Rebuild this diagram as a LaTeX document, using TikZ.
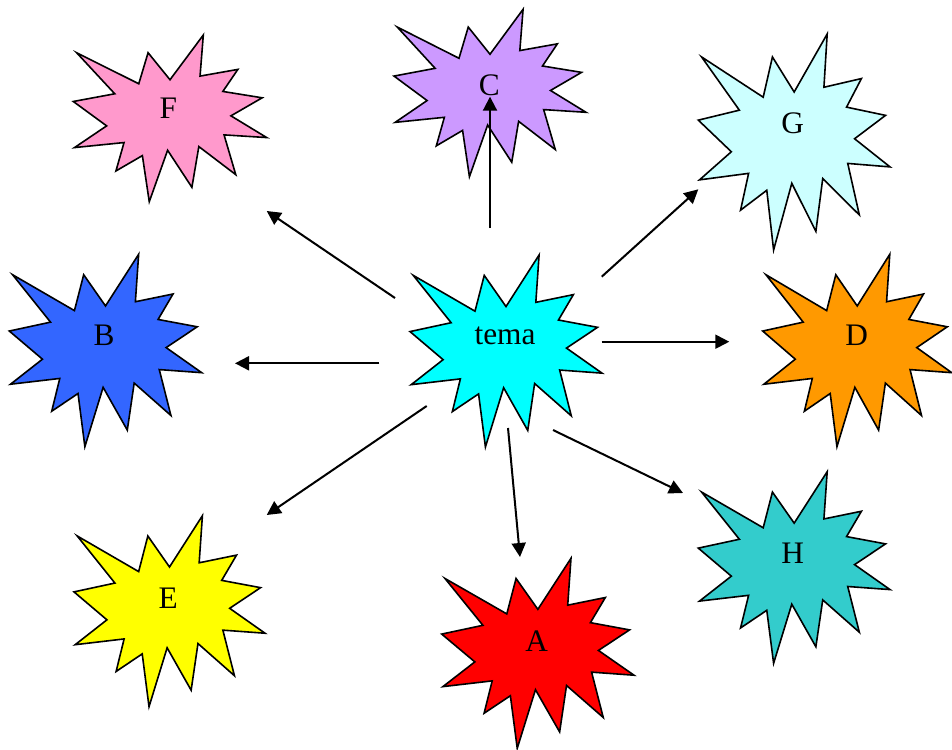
\documentclass[tikz,border=0pt]{standalone}
\usepackage{fontspec}
\setmainfont{Liberation Serif}
\usetikzlibrary{arrows.meta}
\definecolor{cTema}{HTML}{00FFFF}
\definecolor{cF}{HTML}{FF99CC}
\definecolor{cC}{HTML}{CC99FF}
\definecolor{cG}{HTML}{CCFFFF}
\definecolor{cB}{HTML}{3366FF}
\definecolor{cD}{HTML}{FF9900}
\definecolor{cE}{HTML}{FFFF00}
\definecolor{cA}{HTML}{FF0000}
\definecolor{cH}{HTML}{33CCCC}
\tikzset{
  sealline/.style={draw=black, line width=1.2pt, line join=miter},
  lbl/.style={inner sep=0pt, font=\fontsize{23.5pt}{26pt}\selectfont},
  arr/.style={line width=1.5pt, -{Triangle[length=10.5pt,width=10.5pt]}}
}
\newcommand{\seal}[5]{%
  \begin{scope}[shift={(#1,#2)}, xscale=#3/216, yscale=#4/216]
    \filldraw[sealline, fill=#5] (108,58) -- (145.22,0) -- (141.55,53.25) -- (183.8,44.57) -- (167.02,73.15) -- (210.97,81.37) -- (176.07,104.75) -- (216,132.9) -- (168.37,129.42) -- (181.45,180.95) -- (140.2,144.57) -- (132.47,197.37) -- (105.32,149.35) -- (84.85,216) -- (77.15,156.27) -- (47.62,176.17) -- (56.67,139.37) -- (1.35,145.87) -- (37.22,117.75) -- (0,86.15) -- (46.27,76.17) -- (3.7,22.95) -- (73.12,63.2) -- (83.52,22.95) -- cycle;
  \end{scope}}
\begin{document}
\begin{tikzpicture}[x=0.75pt, y=-0.75pt]
\useasboundingbox (0,0) rectangle (952,749);
% stars
\seal{410}{255}{192}{192}{cTema}
\seal{73.3}{35}{193.4}{166.7}{cF}
\seal{394}{9.3}{192}{167.4}{cC}
\seal{698.3}{34}{191.7}{216}{cG}
\seal{9.3}{254.3}{192.4}{192.4}{cB}
\seal{762.7}{254.3}{189}{192.4}{cD}
\seal{74}{515.7}{191}{191}{cE}
\seal{441.7}{558.3}{192.3}{190}{cA}
\seal{698.3}{471.7}{191.7}{191.6}{cH}
% labels
\node[lbl] (tema) at (505,336) {tema};
\node[lbl] (F) at (168.3,108) {F};
\node[lbl] (C) at (489.3,85) {C};
\node[lbl] (G) at (792.7,123) {G};
\node[lbl] (B) at (104,335) {B};
\node[lbl] (D) at (856.7,335) {D};
\node[lbl] (E) at (168.3,598) {E};
\node[lbl] (A) at (536.7,641) {A};
\node[lbl] (H) at (792.7,553) {H};
% arrow ends
\coordinate (sF) at (395,298);   \coordinate (eF) at (266.7,211);
\coordinate (sB) at (379.3,363.3); \coordinate (eB) at (235,363.3);
\coordinate (sE) at (426.7,406); \coordinate (eE) at (266.7,515);
\coordinate (sC) at (490,228);   \coordinate (eC) at (490,96.7);
\coordinate (sG) at (601.7,276.7); \coordinate (eG) at (698.3,189.3);
\coordinate (sD) at (601.7,341.7); \coordinate (eD) at (729.3,341.7);
\coordinate (sA) at (508,428);   \coordinate (eA) at (520,557);
\coordinate (sH) at (553,430);   \coordinate (eH) at (683,493);
\draw[arr] (sF) -- (eF);
\draw[arr] (sB) -- (eB);
\draw[arr] (sE) -- (eE);
\draw[arr] (sC) -- (eC);
\draw[arr] (sG) -- (eG);
\draw[arr] (sD) -- (eD);
\draw[arr] (sA) -- (eA);
\draw[arr] (sH) -- (eH);
\end{tikzpicture}
\end{document}
